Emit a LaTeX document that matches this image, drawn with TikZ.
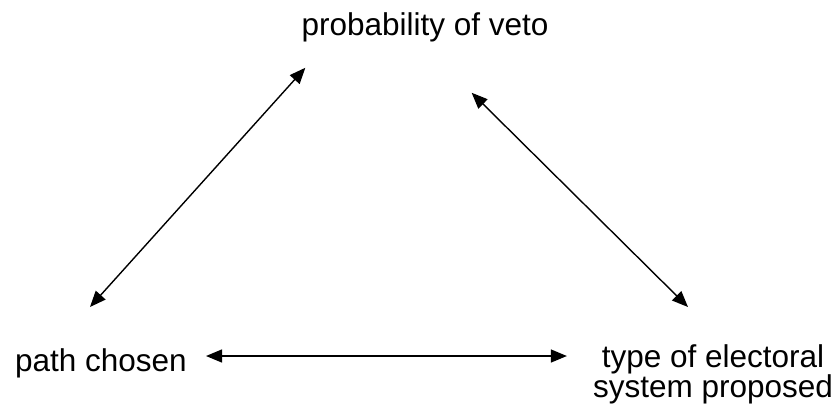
\documentclass[tikz,border=0pt]{standalone}
\usepackage{fontspec}
\setmainfont{Liberation Sans}
\usetikzlibrary{arrows.meta,positioning}

\begin{document}
\begin{tikzpicture}[
    x=1pt, y=-1pt,
    lbl/.style={inner sep=0pt, align=center, font=\fontsize{31.5}{30}\selectfont},
    link/.style={{Triangle[length=16pt,width=13pt]}-{Triangle[length=16pt,width=13pt]}, line width=1.4pt}
]
\useasboundingbox (0,0) rectangle (837,416);
\node[lbl, anchor=base] (veto) at (425,35) {probability of veto};
\node[lbl, anchor=base] (path) at (101,371) {path chosen};
\node[lbl, anchor=north] (types) at (713,344) {type of electoral\\system proposed};
\draw[link] ([xshift=4pt,yshift=-26pt]veto.south west) -- ([xshift=-11pt,yshift=41pt]path.north);
\draw[link] ([xshift=-77pt,yshift=-51pt]veto.south east) -- ([xshift=-25pt,yshift=37pt]types.north);
\draw[link] ([xshift=19pt,yshift=15pt]path.base east) -- ([xshift=-26pt,yshift=-12pt]types.north west);
\end{tikzpicture}
\end{document}
